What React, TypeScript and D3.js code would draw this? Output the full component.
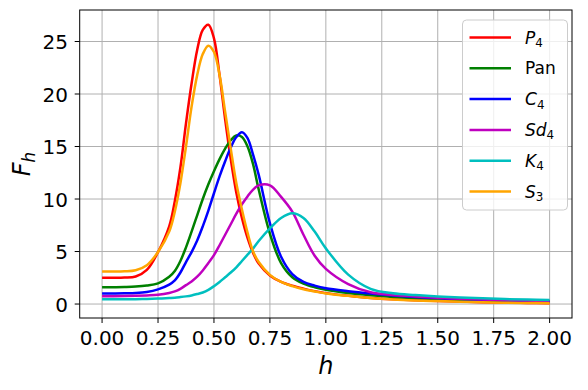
import React from "react";
import * as d3 from "d3";

// sample positions along h
const hGrid = [
  0, 0.05, 0.1, 0.15, 0.2, 0.25, 0.3, 0.325, 0.35, 0.375, 0.4, 0.425, 0.45,
  0.475, 0.5, 0.525, 0.55, 0.575, 0.6, 0.625, 0.65, 0.675, 0.7, 0.75, 0.8,
  0.85, 0.9, 0.95, 1.0, 1.1, 1.2, 1.3, 1.4, 1.5, 1.6, 1.7, 1.8, 1.9, 2.0,
];

const P4 = [
  2.5, 2.5, 2.52, 2.62, 3.25, 4.95, 7.4, 9.8, 13.0, 17.2, 21.0, 24.2, 26.1,
  26.6, 25.3, 21.8, 17.6, 13.8, 10.6, 8.2, 6.3, 4.85, 3.85, 2.72, 2.12, 1.75,
  1.47, 1.23, 1.04, 0.78, 0.58, 0.45, 0.36, 0.29, 0.23, 0.18, 0.14, 0.11, 0.08,
];
const Pan = [
  1.6, 1.6, 1.62, 1.66, 1.76, 1.97, 2.6, 3.15, 4.1, 5.4, 6.9, 8.45, 10.0,
  11.4, 12.65, 13.8, 14.8, 15.6, 16.05, 15.9, 15.0, 13.3, 10.9, 6.7, 3.9, 2.55,
  1.95, 1.6, 1.36, 1.05, 0.84, 0.68, 0.56, 0.47, 0.4, 0.34, 0.3, 0.27, 0.24,
];
const C4 = [
  1.0, 1.0, 1.02, 1.05, 1.15, 1.4, 1.85, 2.25, 3.0, 4.0, 4.95, 6.05, 7.4, 8.9,
  10.55, 12.15, 13.6, 14.9, 15.9, 16.35, 15.8, 14.2, 12.3, 7.7, 4.5, 2.85, 2.1,
  1.75, 1.5, 1.22, 1.0, 0.82, 0.67, 0.56, 0.47, 0.4, 0.34, 0.3, 0.27,
];
const Sd4 = [
  0.75, 0.75, 0.76, 0.78, 0.82, 0.88, 1.05, 1.2, 1.45, 1.8, 2.15, 2.6, 3.2,
  3.9, 4.65, 5.6, 6.6, 7.6, 8.6, 9.5, 10.25, 10.9, 11.3, 11.3, 10.2, 8.8, 6.6,
  4.6, 3.35, 1.9, 1.12, 0.86, 0.72, 0.6, 0.51, 0.43, 0.37, 0.33, 0.3,
];
const K4 = [
  0.45, 0.45, 0.45, 0.46, 0.48, 0.52, 0.57, 0.6, 0.66, 0.73, 0.82, 0.95, 1.1,
  1.35, 1.7, 2.1, 2.55, 3.0, 3.5, 4.1, 4.7, 5.3, 6.0, 7.2, 8.2, 8.65, 8.2, 6.9,
  5.3, 2.8, 1.45, 1.02, 0.85, 0.72, 0.62, 0.54, 0.47, 0.42, 0.38,
];
const S3 = [
  3.1, 3.1, 3.12, 3.22, 3.7, 4.95, 6.9, 8.8, 11.5, 15.0, 18.8, 21.8, 23.8,
  24.6, 24.0, 21.8, 18.3, 14.8, 11.5, 9.0, 6.8, 5.0, 4.0, 2.78, 2.1, 1.7, 1.4,
  1.2, 1.0, 0.78, 0.57, 0.43, 0.34, 0.28, 0.22, 0.17, 0.13, 0.1, 0.07,
];

const seriesValues = [P4, Pan, C4, Sd4, K4, S3];
const labelBase = ["P", "Pan", "C", "Sd", "K", "S"];
const labelSub = ["4", "", "4", "4", "4", "3"];
const colors = ["#ff0000", "#008000", "#0000ff", "#bf00bf", "#00bfbf", "#ffa500"];

const xTicks = [0, 0.25, 0.5, 0.75, 1.0, 1.25, 1.5, 1.75, 2.0];
const yTicks = [0, 5, 10, 15, 20, 25];

const W = 588;
const H = 390;
const FONT = "DejaVu Sans";

const App = () => {
  const x = d3.scaleLinear().domain([-0.1, 2.1]).range([79.7, 572]);
  const y = d3.scaleLinear().domain([-1.33, 28.0]).range([318, 10]);
  const [x0, x1] = x.range();
  const [yb, yt] = y.range();

  const line = d3
    .line<number>()
    .x((_, i) => x(hGrid[i]))
    .y((d) => y(d))
    .curve(d3.curveCatmullRom.alpha(0.5));

  const fmt = d3.format(".2f");

  return (
    <svg
      width={W}
      height={H}
      style={{ position: "absolute", left: 0, top: 0, background: "#fff" }}
      fontFamily={FONT}
    >
      {/* grid */}
      {xTicks.map((t) => (
        <line key={"gx" + t} x1={x(t)} x2={x(t)} y1={yt} y2={yb} stroke="#b0b0b0" strokeWidth={1} />
      ))}
      {yTicks.map((t) => (
        <line key={"gy" + t} x1={x0} x2={x1} y1={y(t)} y2={y(t)} stroke="#b0b0b0" strokeWidth={1} />
      ))}

      {/* curves */}
      {seriesValues.map((vals, i) => (
        <path key={i} d={line(vals) || ""} fill="none" stroke={colors[i]} strokeWidth={2.5} />
      ))}

      {/* spines */}
      <rect x={x0} y={yt} width={x1 - x0} height={yb - yt} fill="none" stroke="#000" strokeWidth={1} />

      {/* x ticks */}
      {xTicks.map((t) => (
        <g key={"tx" + t}>
          <line x1={x(t)} x2={x(t)} y1={yb} y2={yb + 5} stroke="#000" />
          <text x={x(t)} y={345} fontSize={20} textAnchor="middle">
            {fmt(t)}
          </text>
        </g>
      ))}
      {/* y ticks */}
      {yTicks.map((t) => (
        <g key={"ty" + t}>
          <line x1={x0 - 5} x2={x0} y1={y(t)} y2={y(t)} stroke="#000" />
          <text x={68} y={y(t) + 7.5} fontSize={20} textAnchor="end">
            {t}
          </text>
        </g>
      ))}

      {/* axis labels */}
      <text x={(x0 + x1) / 2} y={374} fontSize={24} textAnchor="middle" fontStyle="italic">
        h
      </text>
      <text
        transform={`translate(30,${(yt + yb) / 2}) rotate(-90)`}
        fontSize={24}
        textAnchor="middle"
      >
        <tspan fontStyle="italic">F</tspan>
        <tspan fontStyle="italic" fontSize="0.7em" dy="0.3em">h</tspan>
      </text>

      {/* legend */}
      <rect x={462.5} y={20} width={105} height={190} rx={4} fill="#fff" fillOpacity={0.8} stroke="#cccccc" />
      {labelBase.map((b, i) => {
        const cy = 37.5 + i * 30.8;
        return (
          <g key={"lg" + i}>
            <line x1={469.5} x2={511} y1={cy} y2={cy} stroke={colors[i]} strokeWidth={2.5} />
            <text x={525} y={cy + 6} fontSize={17}>
              <tspan fontStyle={labelSub[i] ? "italic" : "normal"}>{b}</tspan>
              {labelSub[i] && (
                <tspan fontSize="0.7em" dy="0.3em">
                  {labelSub[i]}
                </tspan>
              )}
            </text>
          </g>
        );
      })}
    </svg>
  );
};

export default App;
